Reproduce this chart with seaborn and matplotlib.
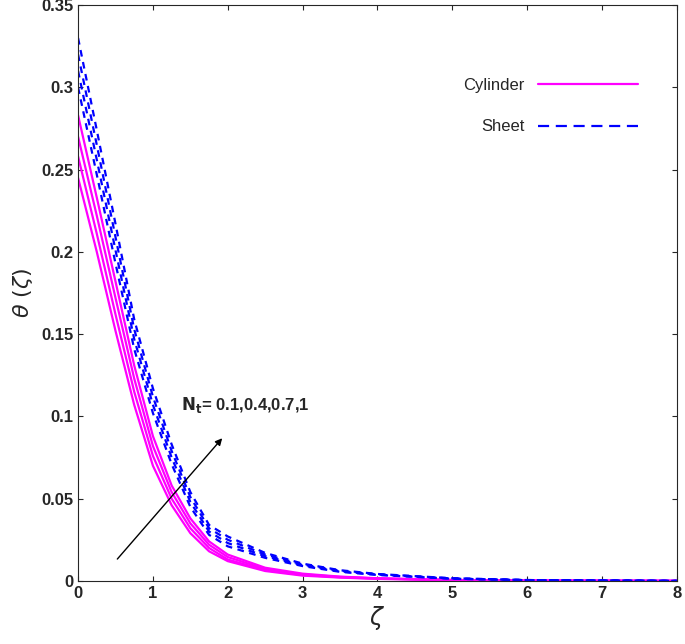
import numpy as np
import pandas as pd
import matplotlib
matplotlib.use("Agg")
import matplotlib.pyplot as plt
import seaborn as sns

zeta = [0, 0.25, 0.5, 0.75, 1.0, 1.25, 1.5, 1.75, 2.0, 2.5, 3.0, 3.5, 4.0, 5.0, 6.0, 8.0]
nt_values = ["0.1", "0.4", "0.7", "1"]

cylinder = {
    "0.1": [0.245, 0.200, 0.152, 0.107, 0.070, 0.046, 0.029, 0.018, 0.012, 0.006, 0.0032, 0.002, 0.0012, 0.0004, 0.0001, 0.0],
    "0.4": [0.258, 0.211, 0.162, 0.115, 0.076, 0.050, 0.032, 0.020, 0.013, 0.0065, 0.0036, 0.0022, 0.0014, 0.0005, 0.0001, 0.0],
    "0.7": [0.270, 0.222, 0.172, 0.123, 0.082, 0.054, 0.035, 0.022, 0.0145, 0.0072, 0.004, 0.0024, 0.0015, 0.0005, 0.0002, 0.0],
    "1":   [0.283, 0.233, 0.182, 0.131, 0.088, 0.058, 0.038, 0.024, 0.016, 0.008, 0.0044, 0.0026, 0.0016, 0.0006, 0.0002, 0.0],
}
sheet = {
    "0.1": [0.300, 0.247, 0.193, 0.141, 0.102, 0.071, 0.045, 0.028, 0.021, 0.014, 0.009, 0.0055, 0.0036, 0.0013, 0.0004, 0.0],
    "0.4": [0.310, 0.256, 0.201, 0.147, 0.107, 0.075, 0.048, 0.030, 0.023, 0.015, 0.0095, 0.0058, 0.0038, 0.0014, 0.0005, 0.0],
    "0.7": [0.320, 0.265, 0.209, 0.153, 0.112, 0.079, 0.051, 0.032, 0.025, 0.016, 0.010, 0.0062, 0.004, 0.0015, 0.0005, 0.0],
    "1":   [0.330, 0.274, 0.217, 0.159, 0.117, 0.083, 0.054, 0.034, 0.027, 0.017, 0.0105, 0.0065, 0.0042, 0.0016, 0.0005, 0.0],
}

rows = []
for geom, data in [("Cylinder", cylinder), ("Sheet", sheet)]:
    for nt in nt_values:
        for z, v in zip(zeta, data[nt]):
            rows.append({"zeta": z, "theta": v, "geom": geom, "Nt": nt})
df = pd.DataFrame(rows)

sns.set_style("ticks")
plt.rcParams["font.family"] = "Liberation Sans"
fig, ax = plt.subplots(figsize=(6.85, 6.44), dpi=100)
fig.subplots_adjust(left=0.114, right=0.988, top=0.992, bottom=0.098)

colors = {"Cylinder": "#ff00ff", "Sheet": "#0000ff"}
styles = {"Cylinder": "-", "Sheet": (0, (3, 2.5))}
for geom in ["Cylinder", "Sheet"]:
    for i, nt in enumerate(nt_values):
        sub = df[(df.geom == geom) & (df.Nt == nt)]
        sns.lineplot(data=sub, x="zeta", y="theta", ax=ax, color=colors[geom],
                     linestyle=styles[geom], lw=1.6,
                     label=geom if i == 0 else None)

ax.set_xlim(0, 8)
ax.set_ylim(0, 0.35)
ax.set_xticks(range(0, 9))
ax.set_yticks(np.arange(0, 0.351, 0.05))
ax.set_yticklabels(["0", "0.05", "0.1", "0.15", "0.2", "0.25", "0.3", "0.35"])
ax.tick_params(direction="in", top=True, right=True, labelsize=12)
for lab in ax.get_xticklabels() + ax.get_yticklabels():
    lab.set_fontweight("bold")
ax.set_xlabel(r"$\zeta$", fontsize=17, labelpad=2)
ax.set_ylabel(r"$\theta\ (\zeta)$", fontsize=16)

leg = ax.legend(loc="upper right", bbox_to_anchor=(0.96, 0.9), frameon=False,
                markerfirst=False, handlelength=6, labelspacing=1.6, fontsize=12)
for line in leg.get_lines():
    line.set_linestyle(styles["Cylinder"] if line.get_color() == colors["Cylinder"] else (0, (5, 3)))

ax.annotate("", xy=(1.95, 0.088), xytext=(0.5, 0.012),
            arrowprops=dict(arrowstyle="-|>", color="black", lw=1))
ax.text(1.38, 0.104, r"$\mathbf{N_t}$= 0.1,0.4,0.7,1", fontsize=12, fontweight="bold")

fig.savefig("out.png", dpi=100)
